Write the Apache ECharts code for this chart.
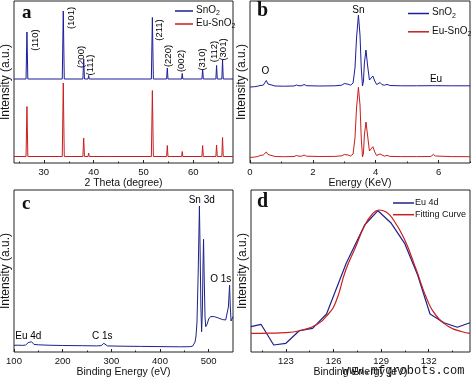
<!DOCTYPE html>
<html><head><meta charset="utf-8">
<script src="https://cdn.jsdelivr.net/npm/echarts@6/dist/echarts.min.js"></script>
<style>html,body{margin:0;padding:0;background:#fff}#c{width:472px;height:381px}</style>
</head><body><div id="c"></div><script>
// ---------- Panel a : XRD ----------
const xrdSnO2 = [[24,84],[26.42,84],[26.6,131],[26.78,84],[33.7,84],[33.9,152],[34.1,84],[37.84,84],[38.0,104],[38.16,84],[38.88,84],[39.0,87.5],[39.12,84],[42.5,84],[42.6,85.5],[42.7,84],[51.6,84],[51.8,145.5],[52.0,84],[54.66,84],[54.8,95],[54.94,84],[57.68,84],[57.8,89.5],[57.92,84],[61.76,84],[61.9,94],[62.04,84],[64.56,84],[64.7,97.5],[64.84,84],[65.76,84],[65.9,103],[66.04,84],[68,84]];
const xrdEuSnO2 = [[24,6.5],[26.42,6.5],[26.6,56.5],[26.78,6.5],[33.7,6.5],[33.9,80],[34.1,6.5],[37.84,6.5],[38.0,25],[38.16,6.5],[38.88,6.5],[39.0,10],[39.12,6.5],[42.5,6.5],[42.6,7.5],[42.7,6.5],[51.6,6.5],[51.8,72.5],[52.0,6.5],[54.66,6.5],[54.8,17.5],[54.94,6.5],[57.68,6.5],[57.8,11.5],[57.92,6.5],[61.76,6.5],[61.9,17.5],[62.04,6.5],[64.56,6.5],[64.7,18],[64.84,6.5],[65.76,6.5],[65.9,25.5],[66.04,6.5],[68,6.5]];
const xrdPeakLabels = [['(110)',28.2,123],['(101)',35.6,145],['(200)',37.6,106],['(111)',39.4,98],['(211)',53.3,133],['(220)',54.95,107],['(002)',57.65,102],['(310)',61.77,103.5],['(112)',64.18,111.5],['(301)',66.13,113.5]];
const xrdMajorTicks = [30,40,50,60];
const xrdMinorTicks = [25,35,45,55,65];

// ---------- Panel b : EDS ----------
const edsSnO2 = [[0,76],[0.15,76.3],[0.25,76.8],[0.32,77.5],[0.37,79],[0.42,77.8],[0.47,79.5],[0.52,82.5],[0.57,79],[0.63,77],[0.8,77],[1.1,76.8],[1.4,77],[1.48,78],[1.56,77.2],[1.65,77.3],[1.72,78.5],[1.8,77.3],[2.2,77],[2.7,77.2],[2.92,77.8],[3.0,79.5],[3.05,80.5],[3.12,78.8],[3.2,77.8],[3.28,80],[3.34,95],[3.39,125],[3.45,148],[3.5,128],[3.54,95],[3.58,77],[3.61,82],[3.64,100],[3.69,113],[3.74,98],[3.8,83],[3.85,82],[3.91,87],[3.97,82],[4.03,78.5],[4.08,79],[4.14,80.5],[4.2,78.3],[4.28,77.8],[4.36,78.6],[4.45,77.5],[4.8,77.2],[5.3,77.2],[5.8,77.3],[5.85,77.6],[5.9,77.3],[6.4,77.2],[7,77.2]];
const edsEuSnO2 = [[0,5.5],[0.15,6],[0.25,6.5],[0.32,7.5],[0.37,9],[0.42,8],[0.47,9.5],[0.52,11],[0.57,8.5],[0.63,6.8],[0.8,6.5],[1.1,6.3],[1.4,6.5],[1.48,7.5],[1.56,6.8],[1.65,6.8],[1.72,8],[1.8,6.8],[2.2,6.5],[2.7,6.6],[2.92,7.2],[3.0,8.5],[3.05,9.5],[3.12,8],[3.2,7],[3.28,9],[3.34,25],[3.39,55],[3.45,75.7],[3.5,58],[3.54,25],[3.58,6],[3.61,10],[3.64,28],[3.69,41],[3.74,28],[3.8,12],[3.85,11],[3.91,16.3],[3.97,11],[4.03,7.5],[4.08,8],[4.14,9],[4.2,7.3],[4.28,6.8],[4.36,7.6],[4.45,6.6],[4.8,6.4],[5.3,6.4],[5.75,6.5],[5.83,8.5],[5.9,7],[6.4,6.4],[7,6.3]];
const edsLabels = [['Sn',3.45,153],['O',0.49,91.3],['Eu',5.92,84]];
const edsMajorTicks = [0,2,4,6];
const edsMinorTicks = [1,3,5,7];

// ---------- Panel c : XPS survey ----------
const xpsSurvey = [[100,6.7],[110,6.8],[118,6.6],[124,7],[127,8.5],[129,9.3],[131,7.5],[133,7.5],[136,10.3],[138,9],[141,7.6],[150,7.2],[170,6.8],[200,6.5],[240,6.3],[270,6.1],[279,6.3],[282,7.5],[284.5,8.7],[287,7],[292,6.1],[320,5.8],[360,5.6],[400,5.4],[440,5.2],[460,5.3],[467,5.8],[470,7],[472,10],[474,16],[476,30],[478.5,80],[481,146],[482.5,100],[484,45],[485.5,20.3],[487,40],[488.5,90],[489.5,112.7],[491,70],[492.5,35],[494,25.3],[497,28],[500,33],[504,35.5],[512,35.3],[520,34],[528,32.5],[535,32],[538,34],[540.5,45],[543,67],[544.5,45],[546,31],[548,33],[550,35.3]];
const xpsLabels = [['Sn 3d',485.7,152],['O 1s',524.7,72.7],['Eu 4d',129.4,16],['C 1s',281.4,15.3]];
const xpsMajorTicks = [100,200,300,400,500];
const xpsMinorTicks = [150,250,350,450];

// ---------- Panel d : Eu 4d ----------
const eu4d = [[120.8,25.3],[121.43,27.7],[122.23,7],[123.0,8.7],[123.84,21.3],[124.68,23.7],[125.56,38],[126.8,88.7],[127.96,127],[128.8,141.3],[129.64,128.7],[130.48,108.7],[131.3,77],[132.08,38],[132.96,29.3],[133.8,24.7],[134.6,29.3]];
const fitCurve = [[120.8,18.7],[122,18.9],[123,19.3],[124.05,22],[124.89,27],[125.62,37],[126.15,50.3],[126.77,82],[127.4,105.3],[127.93,125.3],[128.45,138],[128.87,142],[129.29,140.3],[129.71,133.7],[130.44,113.7],[131.18,83.7],[131.91,52],[132.44,37],[133.27,25.3],[134.11,20.3],[134.6,18.7]];
const eu4dMajorTicks = [123,126,129,132];
const eu4dMinorTicks = [121.5,124.5,127.5,130.5,133.5];

const BLUE = '#1c1c9c', RED = '#c81e1e', NAVY = '#1e2288';
const FONT = '"Liberation Sans", Arial, sans-serif';
const TXT = '#111';

const grids = [
  {left:14, top:1, width:219, height:162},
  {left:250, top:1, width:220, height:162},
  {left:14, top:190, width:219, height:162},
  {left:251, top:190, width:219, height:162}
].map(g => Object.assign(g, {show:true, borderColor:'#222', borderWidth:1, backgroundColor:'transparent', containLabel:false, outerBoundsMode:'none'}));

const xDefs = [
  {min:24, max:68, name:'2 Theta (degree)', major:xrdMajorTicks, minor:xrdMinorTicks},
  {min:0, max:7, name:'Energy (KeV)', major:edsMajorTicks, minor:edsMinorTicks},
  {min:100, max:550, name:'Binding Energy (eV)', major:xpsMajorTicks, minor:xpsMinorTicks},
  {min:120.8, max:134.6, name:'Binding Energy (eV)', major:eu4dMajorTicks, minor:eu4dMinorTicks}
];
const xAxes = [];
xDefs.forEach((d,i) => {
  xAxes.push({type:'value', gridIndex:i, position:'bottom', min:d.min, max:d.max,
    name:d.name, nameLocation:'middle', nameGap:14,
    nameTextStyle:{fontFamily:FONT, fontSize:10.5, color:TXT},
    axisLine:{show:false}, splitLine:{show:false},
    axisTick:{show:true, inside:true, length:3, customValues:d.major, lineStyle:{color:'#222', width:1}},
    axisLabel:{show:true, customValues:d.major, margin:4, fontFamily:FONT, fontSize:9.5, color:TXT}
  });
});
xDefs.forEach((d,i) => {
  xAxes.push({type:'value', gridIndex:i, position:'bottom', offset:0, min:d.min, max:d.max,
    axisLine:{show:false}, splitLine:{show:false}, axisLabel:{show:false},
    axisTick:{show:true, inside:true, length:1.5, customValues:d.minor, lineStyle:{color:'#222', width:1}}
  });
});
const yAxes = [0,1,2,3].map(i => ({type:'value', gridIndex:i, min:0, max:162,
  name:'Intensity (a.u.)', nameLocation:'middle', nameGap:2.5,
  nameTextStyle:{fontFamily:FONT, fontSize:12, color:TXT},
  axisLine:{show:false}, axisTick:{show:false}, axisLabel:{show:false}, splitLine:{show:false}}));

function line(name, data, xi, color, smooth, width) {
  return {type:'line', name, data, xAxisIndex:xi, yAxisIndex:xi, showSymbol:false, symbol:'none',
    smooth:smooth||false, lineStyle:{color, width:width||1}, itemStyle:{color}, animation:false, silent:true};
}
function labels(arr, xi, rotate, fontSize) {
  return {type:'scatter', xAxisIndex:xi, yAxisIndex:xi, symbolSize:0, silent:true, animation:false,
    itemStyle:{opacity:1, color:'#000'},
    data: arr.map(a => ({name:a[0], value:[a[1], a[2]]})),
    label:{show:true, position:'inside', rotate:rotate, formatter:'{b}', opacity:1, textBorderWidth:0, textShadowBlur:0,
      fontFamily:FONT, fontSize:fontSize, color:'#000', align:'center', verticalAlign:'middle'}};
}

const richSub = {
  n:{fontFamily:FONT, fontSize:10, color:TXT, lineHeight:10, verticalAlign:'top'},
  s:{fontFamily:FONT, fontSize:7, color:TXT, lineHeight:12, verticalAlign:'bottom'}
};
function subFmt(name) {
  if (name === 'SnO2') return '{n|SnO}{s|2}';
  if (name === 'Eu-SnO2') return '{n|Eu-SnO}{s|2}';
  return name;
}

const option = {
  animation:false,
  backgroundColor:'#fff',
  grid: grids,
  xAxis: xAxes,
  yAxis: yAxes,
  legend: [
    {data:['SnO2','Eu-SnO2'], orient:'vertical', left:170, top:0, itemWidth:18, itemHeight:1.5, itemGap:1, icon:'rect', formatter:subFmt, textStyle:{rich:richSub, padding:[0,0,0,-2]}, selectedMode:false},
    {data:['SnO2','Eu-SnO2'], orient:'vertical', left:403, top:2.5, itemWidth:21, itemHeight:1.5, itemGap:6.3, icon:'rect', formatter:subFmt, textStyle:{rich:richSub, padding:[0,0,0,-2]}, selectedMode:false},
    {data:['Eu 4d','Fitting Curve'], orient:'vertical', left:388, top:192.5, itemWidth:21, itemHeight:1.5, itemGap:0.7, icon:'rect', textStyle:{fontFamily:FONT, fontSize:9, lineHeight:11, color:TXT, padding:[0,0,0,-4]}, selectedMode:false}
  ],
  series: [
    line('SnO2', xrdSnO2, 0, BLUE),
    line('Eu-SnO2', xrdEuSnO2, 0, RED),
    labels(xrdPeakLabels, 0, 90, 9.5),
    line('SnO2', edsSnO2, 1, BLUE),
    line('Eu-SnO2', edsEuSnO2, 1, RED),
    labels(edsLabels, 1, 0, 10),
    line('XPS survey', xpsSurvey, 2, NAVY),
    labels(xpsLabels, 2, 0, 10),
    line('Eu 4d', eu4d, 3, NAVY, false, 1.2),
    line('Fitting Curve', fitCurve, 3, RED, true, 1.2)
  ],
  graphic: [
    {type:'text', x:22, y:4, style:{text:'a', font:'bold 19px "Liberation Serif", "Times New Roman", serif', fill:'#111'}},
    {type:'text', x:257, y:1, style:{text:'b', font:'bold 20px "Liberation Serif", "Times New Roman", serif', fill:'#111'}},
    {type:'text', x:22, y:195, style:{text:'c', font:'bold 19px "Liberation Serif", "Times New Roman", serif', fill:'#111'}},
    {type:'text', x:257, y:192, style:{text:'d', font:'bold 20px "Liberation Serif", "Times New Roman", serif', fill:'#111'}},
    {type:'text', x:342, y:365, style:{text:'www.mfgrobots.com', font:'12px "Liberation Mono", "DejaVu Sans Mono", monospace', fill:'#111'}}
  ]
};
const chart = echarts.init(document.getElementById('c'), null, {renderer:'canvas'});
chart.setOption(option);
</script></body></html>
